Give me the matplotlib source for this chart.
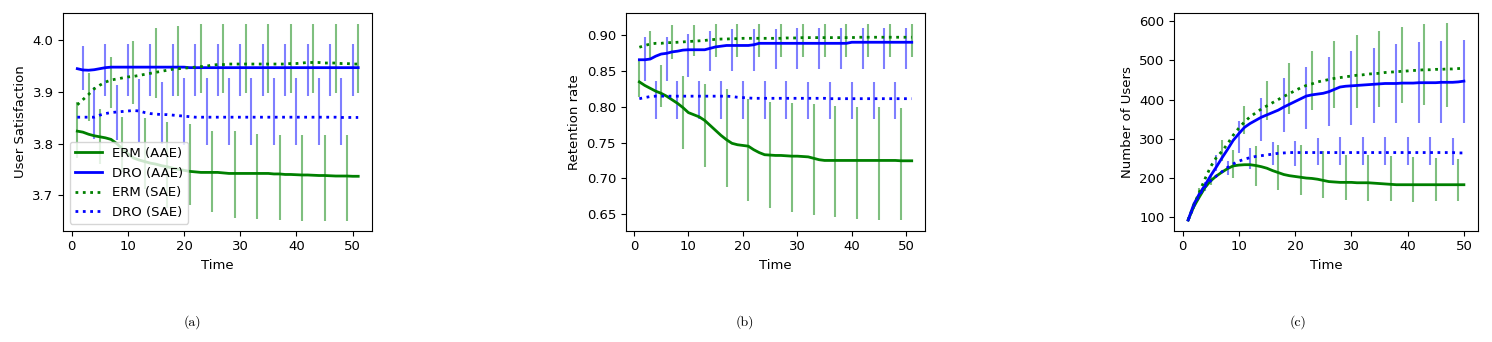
import numpy as np
import matplotlib
matplotlib.use('Agg')
import matplotlib.pyplot as plt

# time steps
t51 = np.arange(1, 52)
t50 = np.arange(1, 51)

# ---- (a) User Satisfaction ----
a_erm_aae = [3.824, 3.822, 3.818, 3.815, 3.813, 3.811, 3.808, 3.800, 3.790, 3.780,
             3.772, 3.768, 3.765, 3.762, 3.760, 3.757, 3.755, 3.752, 3.750, 3.748,
             3.746, 3.745, 3.744, 3.744, 3.744, 3.744, 3.743, 3.742, 3.742, 3.742,
             3.742, 3.742, 3.742, 3.742, 3.742, 3.741, 3.741, 3.740, 3.740, 3.7395,
             3.739, 3.739, 3.7385, 3.738, 3.738, 3.7375, 3.737, 3.737, 3.737, 3.7365, 3.7365]
a_dro_aae = [3.945, 3.9425, 3.942, 3.943, 3.945, 3.947, 3.948, 3.948, 3.948, 3.948,
             3.948, 3.948, 3.948, 3.948, 3.948, 3.948, 3.948, 3.948, 3.948, 3.948,
             3.947, 3.947, 3.947, 3.947, 3.947, 3.947, 3.947, 3.947, 3.947, 3.947,
             3.947, 3.947, 3.947, 3.947, 3.947, 3.947, 3.947, 3.947, 3.947, 3.947,
             3.947, 3.947, 3.947, 3.947, 3.947, 3.947, 3.947, 3.947, 3.947, 3.947, 3.947]
a_erm_sae = [3.875, 3.885, 3.895, 3.906, 3.913, 3.919, 3.923, 3.925, 3.927, 3.929,
             3.930, 3.932, 3.934, 3.936, 3.938, 3.940, 3.942, 3.944, 3.945, 3.946,
             3.947, 3.948, 3.949, 3.950, 3.952, 3.953, 3.953, 3.954, 3.954, 3.954,
             3.954, 3.954, 3.954, 3.954, 3.954, 3.954, 3.954, 3.954, 3.955, 3.955,
             3.956, 3.957, 3.957, 3.957, 3.956, 3.956, 3.956, 3.955, 3.955, 3.954, 3.954]
a_dro_sae = [3.851, 3.851, 3.851, 3.851, 3.855, 3.858, 3.860, 3.861, 3.862, 3.863,
             3.864, 3.863, 3.860, 3.858, 3.857, 3.856, 3.856, 3.855, 3.854, 3.853,
             3.852, 3.851, 3.851, 3.851, 3.851, 3.851, 3.851, 3.851, 3.851, 3.851,
             3.851, 3.851, 3.851, 3.851, 3.851, 3.851, 3.851, 3.851, 3.851, 3.851,
             3.851, 3.851, 3.851, 3.851, 3.851, 3.851, 3.851, 3.8505, 3.8505, 3.8505, 3.8505]
# error bar ends (every 4th step)
a_erm_aae_lo = [3.772, 3.760, 3.745, 3.712, 3.675, 3.681, 3.668, 3.655, 3.654, 3.6525, 3.6505, 3.6505, 3.6505]
a_erm_aae_hi = [3.880, 3.867, 3.852, 3.849, 3.841, 3.838, 3.8235, 3.8235, 3.818, 3.817, 3.817, 3.817, 3.817]
a_dro_aae_lo = [3.904, 3.892, 3.892, 3.892, 3.892, 3.892, 3.892, 3.892, 3.892, 3.892, 3.892, 3.892, 3.892]
a_dro_aae_hi = [3.989, 3.993, 3.993, 3.993, 3.993, 3.993, 3.993, 3.993, 3.993, 3.993, 3.993, 3.993, 3.993]
a_erm_sae_lo = [3.844, 3.868, 3.876, 3.888, 3.893, 3.898, 3.898, 3.898, 3.898, 3.898, 3.898, 3.898, 3.898]
a_erm_sae_hi = [3.937, 3.968, 3.999, 4.023, 4.027, 4.031, 4.032, 4.032, 4.032, 4.032, 4.032, 4.032, 4.032]
a_dro_sae_lo = [3.808, 3.806, 3.802, 3.800, 3.798, 3.798, 3.798, 3.798, 3.798, 3.798, 3.798, 3.798]
a_dro_sae_hi = [3.909, 3.913, 3.925, 3.919, 3.927, 3.927, 3.927, 3.927, 3.927, 3.927, 3.927, 3.927]

# ---- (b) Retention rate ----
b_erm_aae = [0.835, 0.830, 0.826, 0.822, 0.819, 0.815, 0.810, 0.805, 0.799, 0.792,
             0.789, 0.786, 0.781, 0.774, 0.767, 0.760, 0.754, 0.749, 0.747, 0.746,
             0.745, 0.740, 0.736, 0.733, 0.7325, 0.732, 0.732, 0.7315, 0.731, 0.731,
             0.7305, 0.730, 0.728, 0.726, 0.725, 0.725, 0.725, 0.725, 0.725, 0.725,
             0.725, 0.725, 0.725, 0.725, 0.725, 0.725, 0.725, 0.725, 0.7245, 0.7245, 0.7245]
b_dro_aae = [0.866, 0.866, 0.867, 0.871, 0.874, 0.875, 0.877, 0.878, 0.8795, 0.880,
             0.880, 0.880, 0.880, 0.882, 0.884, 0.885, 0.886, 0.886, 0.886, 0.886,
             0.886, 0.887, 0.889, 0.889, 0.889, 0.889, 0.889, 0.889, 0.889, 0.889,
             0.889, 0.889, 0.889, 0.889, 0.889, 0.889, 0.889, 0.889, 0.889, 0.8905,
             0.8905, 0.8905, 0.8905, 0.8905, 0.8905, 0.8905, 0.8905, 0.8905, 0.8905, 0.8905, 0.8905]
b_erm_sae = [0.8835, 0.886, 0.888, 0.889, 0.889, 0.890, 0.890, 0.8905, 0.891, 0.8915,
             0.892, 0.8925, 0.893, 0.894, 0.8945, 0.895, 0.895, 0.8955, 0.8955, 0.896,
             0.896, 0.896, 0.896, 0.896, 0.896, 0.896, 0.896, 0.8965, 0.8965, 0.8965,
             0.897, 0.897, 0.897, 0.897, 0.897, 0.897, 0.897, 0.897, 0.897, 0.897,
             0.8975, 0.8975, 0.8975, 0.8975, 0.8975, 0.8975, 0.8975, 0.8975, 0.8975, 0.8975, 0.8975]
b_dro_sae = [0.8115, 0.813, 0.8145, 0.815, 0.815, 0.815, 0.815, 0.815, 0.815, 0.815,
             0.815, 0.815, 0.815, 0.815, 0.815, 0.815, 0.815, 0.8145, 0.8135, 0.813,
             0.8125, 0.812, 0.812, 0.812, 0.812, 0.812, 0.812, 0.812, 0.812, 0.812,
             0.812, 0.812, 0.812, 0.812, 0.812, 0.8115, 0.8115, 0.8115, 0.8115, 0.8115,
             0.8115, 0.8115, 0.8115, 0.8115, 0.8115, 0.8115, 0.8115, 0.8115, 0.8115, 0.8115, 0.8115]
b_erm_aae_lo = [0.8145, 0.7996, 0.7416, 0.7163, 0.6874, 0.6686, 0.658, 0.6533, 0.6486, 0.6454, 0.6431, 0.6416, 0.641]
b_erm_aae_hi = [0.8636, 0.8589, 0.8435, 0.8323, 0.8249, 0.8112, 0.8075, 0.806, 0.8042, 0.8014, 0.8005, 0.7996, 0.799]
b_dro_aae_lo = [0.8369, 0.8369, 0.8417, 0.850, 0.850, 0.850, 0.8533, 0.8533, 0.8533, 0.8533, 0.8533, 0.8533, 0.8533]
b_dro_aae_hi = [0.8982, 0.8982, 0.9024, 0.906, 0.909, 0.909, 0.909, 0.9108, 0.9108, 0.9108, 0.9108, 0.9108, 0.9108]
b_erm_sae_lo = [0.868, 0.867, 0.871, 0.870, 0.870, 0.870, 0.870, 0.870, 0.870, 0.870, 0.870, 0.870, 0.870]
b_erm_sae_hi = [0.9066, 0.915, 0.915, 0.9166, 0.9166, 0.9166, 0.9166, 0.9166, 0.9166, 0.9166, 0.9166, 0.9166, 0.9166]
b_dro_sae_lo = [0.7836, 0.7836, 0.7836, 0.7836, 0.7836, 0.7836, 0.7836, 0.7836, 0.7836, 0.7836, 0.7836, 0.7836]
b_dro_sae_hi = [0.8369, 0.8369, 0.8369, 0.8369, 0.8369, 0.8369, 0.8369, 0.8355, 0.8355, 0.8355, 0.8355, 0.8355]

# ---- (c) Number of Users ----
c_erm_aae = [93, 127, 152, 176, 193, 205, 215, 224, 231, 233,
             234, 234, 232, 229, 225, 219, 214, 209, 206, 204,
             202, 200, 199, 197, 194, 191, 190, 189, 189, 189,
             188, 188, 188, 187, 186, 185, 184, 183, 183, 183,
             183, 183, 183, 183, 183, 183, 183, 183, 183, 183]
c_dro_aae = [93, 133, 160, 182, 206, 228, 251, 273, 296, 313,
             329, 339, 347, 355, 361, 367, 373, 381, 388, 395,
             402, 409, 412, 414, 416, 420, 426, 432, 434, 435,
             436, 437, 438, 439, 440, 441, 441, 441, 442, 442,
             442, 443, 443, 443, 443, 444, 444, 444, 445, 447]
c_erm_sae = [93, 131, 164, 198, 229, 252, 268, 287, 309, 327,
             343, 356, 366, 376, 384, 392, 400, 408, 415, 423,
             430, 436, 440, 445, 448, 451, 454, 456, 458, 460,
             462, 463, 465, 466, 467, 469, 470, 471, 472, 473,
             474, 475, 476, 476, 477, 477, 478, 478, 479, 480]
c_dro_sae = [93, 128, 157, 178, 193, 205, 216, 227, 236, 243,
             248, 252, 255, 257, 259, 261, 263, 264, 265, 265,
             265, 265, 265, 265, 265, 265, 265, 265, 265, 265,
             265, 265, 265, 265, 265, 265, 265, 265, 265, 265,
             265, 265, 265, 265, 265, 265, 265, 265, 264, 264]
c_erm_aae_lo = [90, 182, 200, 181, 170, 158, 150, 145, 142, 142, 139, 141, 141]
c_erm_aae_hi = [96, 205, 272, 281, 283, 283, 270, 260, 260, 256, 254, 251, 249]
c_dro_aae_lo = [122, 217, 264, 295, 318, 326, 332, 334, 340, 340, 340, 340, 340]
c_dro_aae_hi = [140, 260, 345, 404, 455, 483, 509, 525, 532, 542, 547, 550, 551]
c_erm_sae_lo = [150, 243, 311, 349, 363, 374, 379, 379, 381, 390, 387, 381]
c_erm_sae_hi = [175, 298, 383, 447, 494, 525, 550, 564, 576, 585, 593, 596]
c_dro_sae_lo = [168, 209, 223, 232, 230, 234, 234, 232, 232, 232, 232, 232]
c_dro_sae_hi = [190, 243, 277, 292, 295, 302, 305, 305, 305, 305, 305, 302]

ylabels = ['User Satisfaction', 'Retention rate', 'Number of Users']
captions = ['(a)', '(b)', '(c)']
labels = ['ERM (AAE)', 'DRO (AAE)', 'ERM (SAE)', 'DRO (SAE)']

panels = [
    (t51, [a_erm_aae, a_dro_aae, a_erm_sae, a_dro_sae],
     [(a_erm_aae_lo, a_erm_aae_hi), (a_dro_aae_lo, a_dro_aae_hi),
      (a_erm_sae_lo, a_erm_sae_hi), (a_dro_sae_lo, a_dro_sae_hi)]),
    (t51, [b_erm_aae, b_dro_aae, b_erm_sae, b_dro_sae],
     [(b_erm_aae_lo, b_erm_aae_hi), (b_dro_aae_lo, b_dro_aae_hi),
      (b_erm_sae_lo, b_erm_sae_hi), (b_dro_sae_lo, b_dro_sae_hi)]),
    (t50, [c_erm_aae, c_dro_aae, c_erm_sae, c_dro_sae],
     [(c_erm_aae_lo, c_erm_aae_hi), (c_dro_aae_lo, c_dro_aae_hi),
      (c_erm_sae_lo, c_erm_sae_hi), (c_dro_sae_lo, c_dro_sae_hi)]),
]

colors = ['green', 'blue', 'green', 'blue']
styles = ['-', '-', ':', ':']
fs = 9.5

fig = plt.figure(figsize=(14.92, 3.42), dpi=100)
rects = [[0.0424, 0.3254, 0.2071, 0.6352],
         [0.4194, 0.3254, 0.2008, 0.6352],
         [0.7871, 0.3254, 0.2033, 0.6352]]
ylims = [(3.631, 4.052), (0.6266, 0.9308), (65.8, 619.4)]
yticks = [[3.7, 3.8, 3.9, 4.0],
          [0.65, 0.70, 0.75, 0.80, 0.85, 0.90],
          [100, 200, 300, 400, 500, 600]]
cap_x = [0.129, 0.499, 0.870]

for k, (t, series, bars) in enumerate(panels):
    ax = fig.add_axes(rects[k])
    for i in range(4):
        tb = t[i::4]
        lo, hi = bars[i]
        ax.vlines(tb, lo, hi, colors=colors[i], alpha=0.5, lw=1.5, zorder=1)
    for i in range(4):
        ax.plot(t, series[i], color=colors[i], ls=styles[i], lw=2, label=labels[i], zorder=2)
    ax.set_ylim(*ylims[k])
    ax.set_yticks(yticks[k])
    if k == 1:
        ax.set_yticklabels(['%.2f' % v for v in yticks[k]])
    ax.set_xticks([0, 10, 20, 30, 40, 50])
    ax.tick_params(labelsize=fs)
    ax.set_xlabel('Time', fontsize=fs)
    ax.set_ylabel(ylabels[k], fontsize=fs)
    if k == 0:
        ax.legend(loc='lower left', fontsize=fs)
    fig.text(cap_x[k], 0.058, captions[k], ha='center', va='center',
             fontsize=10, family='cmr10')

fig.savefig('out.png', dpi=100)
